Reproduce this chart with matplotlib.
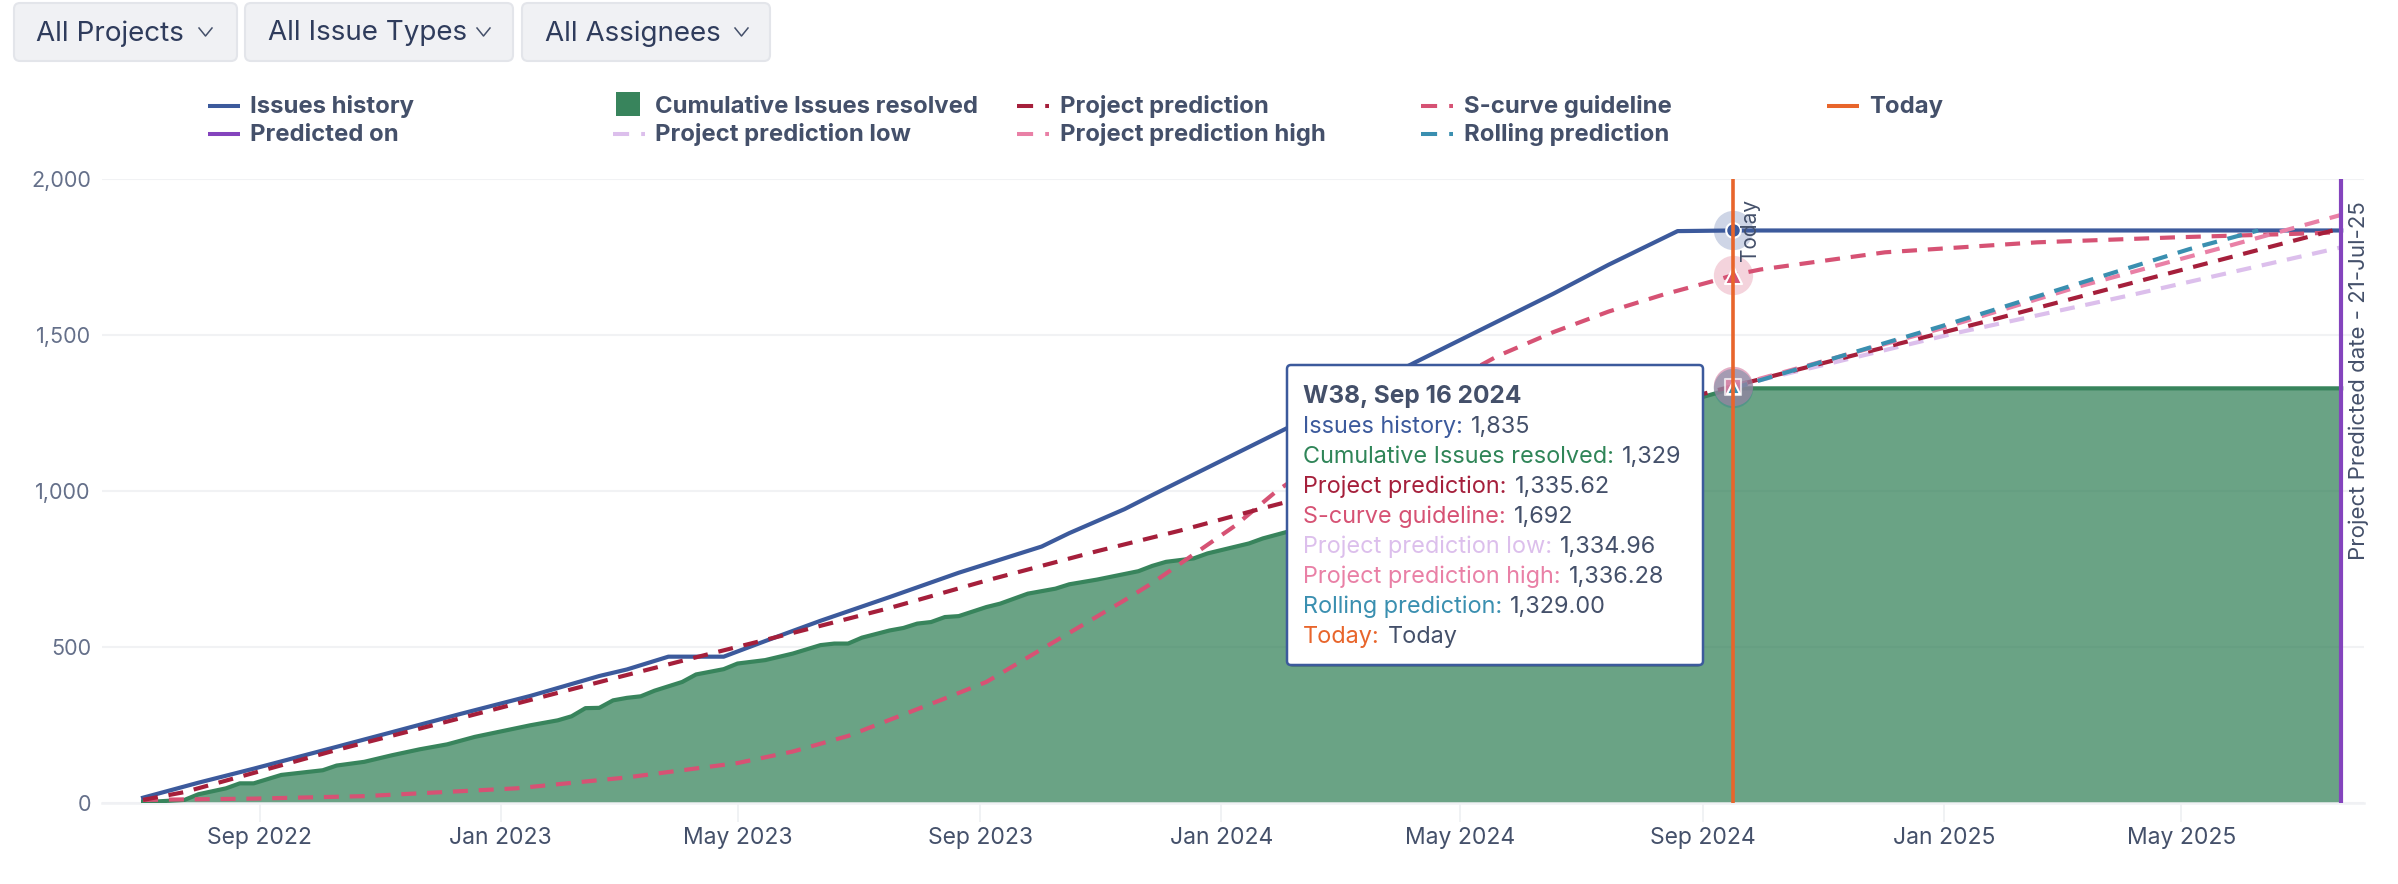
import matplotlib
matplotlib.use('Agg')
import matplotlib.pyplot as plt
import matplotlib.dates as mdates
import pandas as pd
from matplotlib.lines import Line2D
from matplotlib.patches import FancyBboxPatch, Rectangle
from matplotlib.ticker import StrMethodFormatter

plt.rcParams['font.family'] = ['Inter', 'DejaVu Sans']

FIRST_WEEK = pd.Timestamp('2022-07-04')

# weeks counted from FIRST_WEEK
history_weeks = [0, 4, 8, 14, 18, 23, 28, 33, 35, 38, 42, 45, 49, 54, 59, 65, 67, 71,
                 73, 77, 80, 83, 92, 97, 102, 106, 111, 115, 159]
history_vals = [17, 65, 110, 180, 227, 286, 343, 407, 428, 469, 469, 519, 584, 660, 738,
                822, 865, 942, 987, 1075, 1141, 1207, 1412, 1522, 1632, 1725, 1833, 1835, 1835]

resolved_weeks = [0, 1, 3, 4, 6, 7, 8, 10, 13, 14, 16, 18, 20, 22, 24, 28, 30, 31, 32, 33,
                  34, 35, 36, 37, 39, 40, 42, 43, 45, 47, 49, 50, 51, 52, 54, 55, 56, 57,
                  58, 59, 61, 62, 64, 66, 67, 69, 70, 72, 73, 74, 76, 77, 80, 81, 83, 90,
                  100, 108, 115, 159]
resolved_vals = [5, 5, 10, 28, 47, 63, 63, 90, 105, 120, 132, 153, 172, 188, 212, 249, 265,
                 278, 304, 305, 329, 337, 342, 360, 388, 412, 429, 447, 458, 479, 506, 511,
                 511, 530, 553, 561, 575, 580, 596, 599, 628, 639, 671, 687, 701, 716, 725,
                 743, 760, 773, 784, 800, 832, 848, 872, 975, 1120, 1240, 1329, 1329]

prediction_weeks = [0, 3, 14, 22, 34, 40, 47, 54, 61, 69, 75, 81, 115, 133, 145, 159]
prediction_vals = [10, 35, 170, 261, 399, 467, 545, 625, 713, 807, 873, 945, 1336, 1540, 1680, 1842]

scurve_weeks = [0, 8, 16, 27, 35, 43, 47, 51, 58, 61, 65, 71, 73, 79, 82, 90, 98, 102, 106,
                110, 114, 115, 117, 126, 137, 147, 157, 159]
scurve_vals = [10, 14, 22, 47, 82, 128, 165, 215, 335, 388, 493, 650, 705, 889, 1000, 1240,
               1433, 1509, 1575, 1630, 1678, 1692, 1710, 1765, 1797, 1813, 1826, 1830]

low_weeks = [115, 121, 131, 144, 159]
low_vals = [1335, 1398, 1505, 1630, 1781]

high_weeks = [115, 130, 140, 150, 159]
high_vals = [1336, 1520, 1655, 1775, 1885]

rolling_weeks = [115, 130, 140, 148, 153]
rolling_vals = [1329, 1527, 1665, 1775, 1835]

today_week = 115
predicted_week = 159
y_ticks = [0, 500, 1000, 1500, 2000]

BLUE = '#3c5a9c'
GREEN = '#38845c'
RED = '#a51f3b'
SCURVE = '#d65274'
LOW = '#dcbfec'
HIGH = '#e980a6'
ROLLING = '#3a8fb0'
ORANGE = '#e8652b'
PURPLE = '#8444bd'
TEXT = '#44506a'

legend_rows = [
    ('Issues history', BLUE, 'solid', 208, 250, 106),
    ('Cumulative Issues resolved', GREEN, 'box', 616, 655, 106),
    ('Project prediction', RED, 'dash', 1017, 1060, 106),
    ('S-curve guideline', SCURVE, 'dash', 1421, 1464, 106),
    ('Today', ORANGE, 'solid', 1827, 1869, 106),
    ('Predicted on', PURPLE, 'solid', 208, 250, 134),
    ('Project prediction low', LOW, 'dash', 613, 655, 134),
    ('Project prediction high', HIGH, 'dash', 1017, 1060, 134),
    ('Rolling prediction', ROLLING, 'dash', 1421, 1464, 134),
]

tooltip_rows = [
    ('Issues history:', '1,835', BLUE),
    ('Cumulative Issues resolved:', '1,329', '#2f8558'),
    ('Project prediction:', '1,335.62', RED),
    ('S-curve guideline:', '1,692', SCURVE),
    ('Project prediction low:', '1,334.96', LOW),
    ('Project prediction high:', '1,336.28', HIGH),
    ('Rolling prediction:', '1,329.00', ROLLING),
    ('Today:', 'Today', ORANGE),
]


def week_dates(weeks):
    return [FIRST_WEEK + pd.Timedelta(weeks=w) for w in weeks]


W, H = 2398, 884
fig = plt.figure(figsize=(W / 100, H / 100), dpi=100)
ax = fig.add_axes([102 / W, 1 - 803 / H, (2364 - 102) / W, (803 - 179) / H])

# main series
dash = (3.6, 2.6)
ax.fill_between(week_dates(resolved_weeks), resolved_vals, color=GREEN, alpha=0.75, lw=0, zorder=2)
ax.plot(week_dates(resolved_weeks), resolved_vals, color=GREEN, lw=3.0, zorder=3)
ax.plot(week_dates(history_weeks), history_vals, color=BLUE, lw=3.0, zorder=5)
for weeks, vals, color in [(scurve_weeks, scurve_vals, SCURVE),
                           (low_weeks, low_vals, LOW),
                           (prediction_weeks, prediction_vals, RED),
                           (high_weeks, high_vals, HIGH),
                           (rolling_weeks, rolling_vals, ROLLING)]:
    ax.plot(week_dates(weeks), vals, color=color, lw=3.0, dashes=dash,
            dash_capstyle='butt', zorder=6)

# hover markers on today's week
today = week_dates([today_week])[0]
predicted = week_dates([predicted_week])[0]
for val, color in [(1329, GREEN), (1335.62, RED), (1334.96, LOW), (1336.28, HIGH), (1329, ROLLING)]:
    ax.scatter([today], [val], s=800, color=color, alpha=0.28, lw=0, zorder=7)
ax.scatter([today], [1835], s=800, color=BLUE, alpha=0.25, lw=0, zorder=7)
ax.scatter([today], [1692], s=800, color=SCURVE, alpha=0.25, lw=0, zorder=7)
ax.scatter([today], [1835], s=110, color=BLUE, edgecolor='white', lw=1.5, zorder=8)
ax.scatter([today], [1692], s=150, marker='^', color=SCURVE, edgecolor='white', lw=1.5, zorder=8)
ax.scatter([today], [1332], s=130, marker='s', color=HIGH, edgecolor='white', lw=1.5, alpha=0.7, zorder=8)
ax.scatter([today], [1332], s=90, marker='^', color=ROLLING, edgecolor='white', lw=1.5, zorder=8)

ax.axvline(today, color=ORANGE, lw=2.6, zorder=9)
ax.axvline(predicted, color=PURPLE, lw=3.0, zorder=9)

# axes
ax.set_xlim(FIRST_WEEK - pd.Timedelta(weeks=2.97), FIRST_WEEK + pd.Timedelta(weeks=160.65))
ax.set_ylim(0, 2000)
ax.set_yticks(y_ticks)
ax.yaxis.set_major_formatter(StrMethodFormatter('{x:,.0f}'))
ax.xaxis.set_major_locator(mdates.MonthLocator(bymonth=[1, 5, 9]))
ax.xaxis.set_major_formatter(mdates.DateFormatter('%b %Y'))
ax.grid(axis='y', color='#f1f2f4', lw=1.5, zorder=0)
ax.set_axisbelow(True)
for s in ['top', 'right', 'left']:
    ax.spines[s].set_visible(False)
ax.spines['bottom'].set_color('#f0f1f4')
ax.spines['bottom'].set_linewidth(1.8)
ax.tick_params(axis='y', length=0, pad=8, labelsize=15.5, labelcolor='#65708a')
ax.tick_params(axis='x', length=14, width=1.2, color='#eef0f2', pad=3, labelsize=16.5, labelcolor=TEXT)

# overlay in picture pixels for the page furniture around the chart
ov = fig.add_axes([0, 0, 1, 1], zorder=10)
ov.set_xlim(0, W)
ov.set_ylim(H, 0)
ov.axis('off')
ov.patch.set_alpha(0)

buttons = [('All Projects', 14, 237, 36, 199), ('All Issue Types', 245, 513, 268, 477),
           ('All Assignees', 522, 770, 545, 735)]
for label, x0, x1, tx, cx in buttons:
    ov.add_patch(FancyBboxPatch((x0 + 3, 6), x1 - x0 - 6, 52, boxstyle='round,pad=3,rounding_size=6',
                                fc='#f0f1f4', ec='#e3e5ea', lw=1.5))
    ov.text(tx, 33.5, label, color='#2f3c5c', fontsize=20, va='center', ha='left')
    ov.add_line(Line2D([cx, cx + 6.5, cx + 13], [28, 36, 28], color=TEXT, lw=1.1))

for label, color, kind, hx, tx, y in legend_rows:
    if kind == 'box':
        ov.add_patch(Rectangle((hx, y - 14), 24, 24, color=color, lw=0))
    elif kind == 'solid':
        ov.add_line(Line2D([hx, hx + 32], [y, y], color=color, lw=2.9, solid_capstyle='butt'))
    else:
        ov.add_line(Line2D([hx, hx + 32], [y, y], color=color, lw=2.9, dashes=(4, 3), dash_capstyle='butt'))
    ov.text(tx, y + 7, label, color=TEXT, fontsize=17.2, fontweight='bold', va='baseline', ha='left')

ov.text(1750, 230, 'Today', color=TEXT, fontsize=15, rotation=90, va='center', ha='center')
ov.text(2359, 381, 'Project Predicted date - 21-Jul-25', color=TEXT, fontsize=16, rotation=90,
        va='center', ha='center')

# tooltip
ov.add_patch(FancyBboxPatch((1291, 369), 408, 296, boxstyle='round,pad=2,rounding_size=4',
                            fc='#20304a', ec='none', alpha=0.3))
ov.add_patch(FancyBboxPatch((1289, 367), 412, 296, boxstyle='round,pad=2,rounding_size=4',
                            fc='white', ec=BLUE, lw=1.8))
ov.text(1303, 403, 'W38, Sep 16 2024', color=TEXT, fontsize=17.6, fontweight='bold', va='baseline', ha='left')
renderer = fig.canvas.get_renderer()
for i, (label, value, color) in enumerate(tooltip_rows):
    y = 433 + 30 * i
    t = ov.text(1303, y, label, color=color, fontsize=16.9, va='baseline', ha='left')
    x_end = t.get_window_extent(renderer).x1
    ov.text(x_end + 8, y, value, color=TEXT, fontsize=16.9, va='baseline', ha='left')

fig.savefig('out.png', dpi=100)
